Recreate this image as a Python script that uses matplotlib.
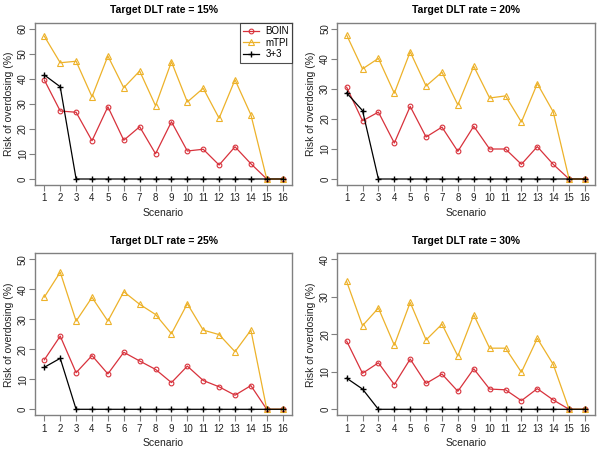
import matplotlib
matplotlib.use("Agg")
import matplotlib.pyplot as plt
import numpy as np

plt.rcParams['font.family'] = ['Liberation Sans', 'DejaVu Sans']

scenarios = list(range(1, 17))
targets = ["15%", "20%", "25%", "30%"]

boin = {
    "15%": [39.6, 27.2, 26.7, 15.3, 28.9, 15.5, 20.9, 10.1, 22.9, 11.2, 11.9, 5.6, 12.9, 6.1, 0, 0],
    "20%": [30.6, 19.4, 22.3, 12.0, 24.2, 14.0, 17.3, 9.2, 17.6, 10.0, 10.0, 4.9, 10.8, 4.9, 0, 0],
    "25%": [16.5, 24.4, 12.2, 17.9, 11.8, 19.0, 16.1, 13.3, 8.9, 14.4, 9.6, 7.5, 4.7, 7.9, 0, 0],
    "30%": [18.2, 9.6, 12.4, 6.6, 13.4, 6.9, 9.4, 4.8, 10.8, 5.4, 5.2, 2.3, 5.5, 2.5, 0, 0],
}
mtpi = {
    "15%": [57.1, 46.5, 47.1, 32.9, 49.2, 36.5, 43.2, 29.3, 46.9, 30.8, 36.3, 24.3, 39.7, 25.7, 0, 0],
    "20%": [48.0, 36.7, 40.2, 28.6, 42.4, 31.0, 35.6, 24.7, 37.6, 27.0, 27.7, 19.0, 31.8, 22.4, 0, 0],
    "25%": [37.4, 45.7, 29.4, 37.3, 29.4, 39.2, 35.0, 31.6, 25.2, 35.2, 26.4, 24.9, 19.2, 26.4, 0, 0],
    "30%": [34.1, 22.3, 27.0, 17.1, 28.5, 18.5, 22.7, 14.2, 25.2, 16.3, 16.3, 9.9, 18.9, 12.0, 0, 0],
}
three3 = {
    "15%": [41.6, 36.9, 0, 0, 0, 0, 0, 0, 0, 0, 0, 0, 0, 0, 0, 0],
    "20%": [28.7, 22.8, 0, 0, 0, 0, 0, 0, 0, 0, 0, 0, 0, 0, 0, 0],
    "25%": [14.0, 17.0, 0, 0, 0, 0, 0, 0, 0, 0, 0, 0, 0, 0, 0, 0],
    "30%": [8.3, 5.4, 0, 0, 0, 0, 0, 0, 0, 0, 0, 0, 0, 0, 0, 0],
}
ymax = {"15%": 60, "20%": 50, "25%": 50, "30%": 40}

RED = "#D8323C"
GOLD = "#EDB22A"
BOXC = "#808080"

W, H = 602, 449
fig = plt.figure(figsize=(W / 100, H / 100), dpi=100)

lefts = [34.8, 337.1]
widths = 257.4
tops = [23, 253.3]
heights = 162

for i, t in enumerate(targets):
    r, c = divmod(i, 2)
    ax = fig.add_axes([lefts[c] / W, 1 - (tops[r] + heights) / H, widths / W, heights / H])
    x = np.array(scenarios)
    ax.plot(x, boin[t], color=RED, lw=0.9, marker='o', ms=3.4, mfc='none', mew=0.8, label='BOIN')
    ax.plot(x, mtpi[t], color=GOLD, lw=0.9, marker='^', ms=4.0, mfc='none', mew=0.8, label='mTPI')
    ax.plot(x, three3[t], color='black', lw=0.9, marker='+', ms=5, mew=1.0, label='3+3')
    ym = ymax[t]
    ax.set_xlim(1 - 0.04 * 15, 16 + 0.04 * 15)
    ax.set_ylim(-0.04 * ym, ym * 1.04)
    ax.set_xticks(scenarios)
    ax.set_yticks(np.arange(0, ym + 1, 10))
    ax.tick_params(axis='both', length=4, width=0.8, color=BOXC, labelsize=7, labelcolor='#222222')
    ax.tick_params(axis='x', pad=2)
    ax.tick_params(axis='y', pad=1)
    for lab in ax.get_yticklabels():
        lab.set_rotation(90)
        lab.set_va('center')
    for s in ax.spines.values():
        s.set_color(BOXC)
        s.set_linewidth(1.0)
    ax.set_title("Target DLT rate = " + t, fontsize=7.5, fontweight='bold', pad=7)
    ax.set_xlabel("Scenario", fontsize=7.5, labelpad=3, color='#222222')
    ax.set_ylabel("Risk of overdosing (%)", fontsize=7.5, labelpad=3, color='#222222')
    if i == 0:
        leg = ax.legend(loc='upper right', fontsize=7, frameon=True, fancybox=False,
                        borderaxespad=0, handlelength=1.7, borderpad=0.35, labelspacing=0.15,
                        handletextpad=0.6)
        leg.get_frame().set_edgecolor('#222222')
        leg.get_frame().set_linewidth(0.8)

fig.savefig("out.png", dpi=100)
